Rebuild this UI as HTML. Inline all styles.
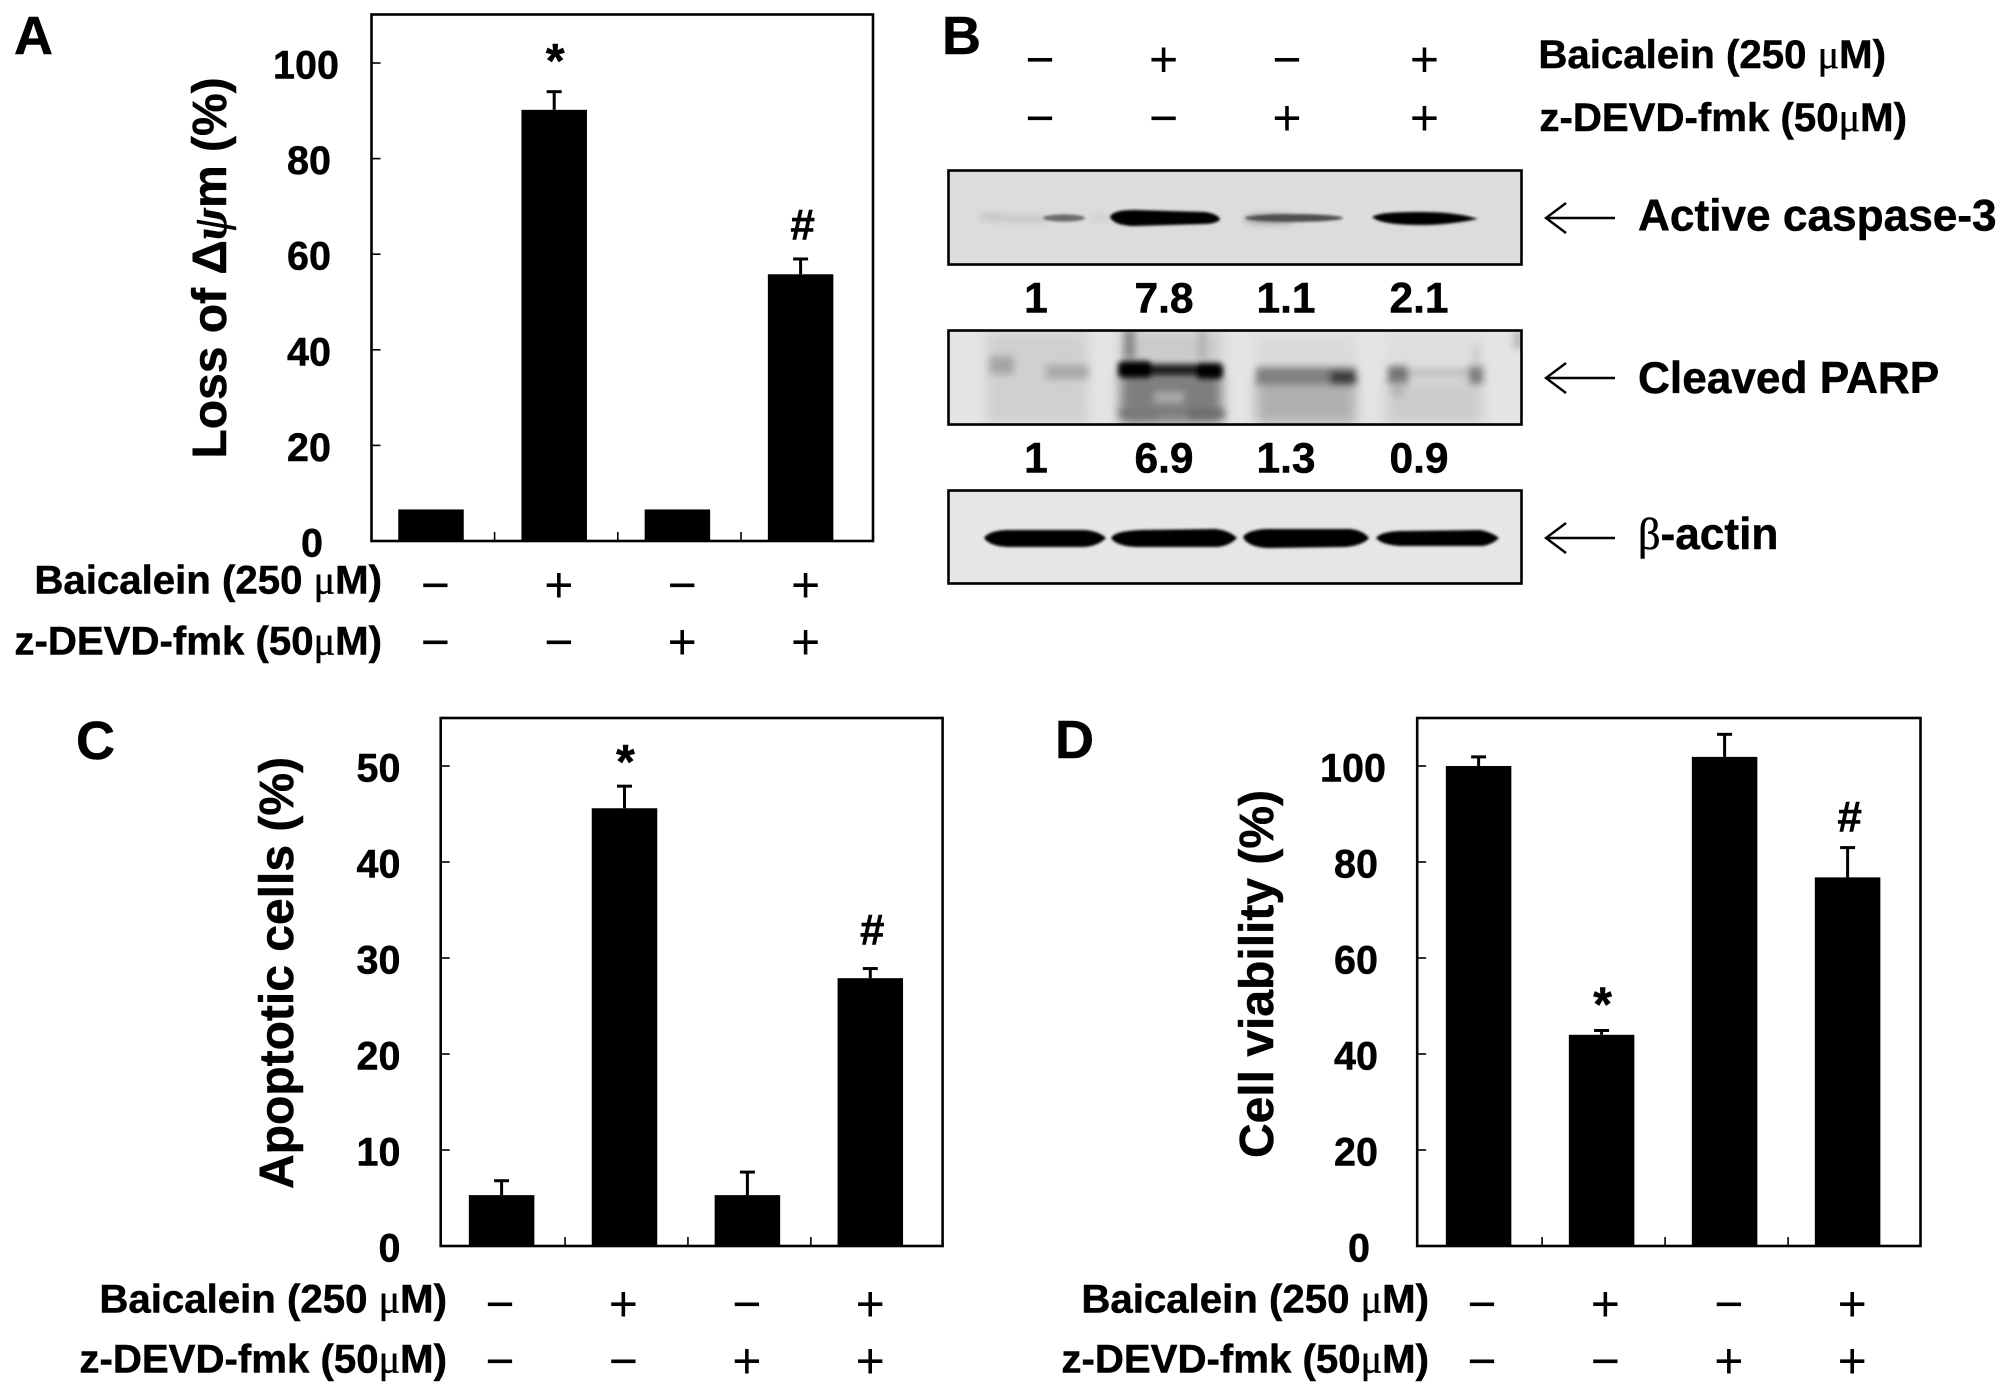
<!DOCTYPE html>
<html lang="en">
<head>
<meta charset="utf-8">
<title>Baicalein apoptosis figure</title>
<style>
html,body{margin:0;padding:0;background:#fff;width:2008px;height:1395px;overflow:hidden}
svg{display:block}
text{font-family:"Liberation Sans",sans-serif;font-weight:bold;fill:#000;stroke:#000;stroke-width:.5px}
.serif{font-family:"Liberation Serif",serif;font-weight:normal}
.sign{font-weight:normal;stroke:none}
</style>
</head>
<body>
<svg id="figure" xmlns="http://www.w3.org/2000/svg" width="2008" height="1395" viewBox="0 0 2008 1395">
  <defs>
    <filter id="b1" x="-10%" y="-100%" width="120%" height="300%"><feGaussianBlur stdDeviation="1.2"/></filter>
    <filter id="b4" x="-10%" y="-100%" width="120%" height="300%"><feGaussianBlur stdDeviation="3"/></filter>
    <filter id="b2" x="-10%" y="-100%" width="120%" height="300%"><feGaussianBlur stdDeviation="3.6"/></filter>
    <filter id="b3" x="-10%" y="-30%" width="120%" height="160%"><feGaussianBlur stdDeviation="6"/></filter>
    <clipPath id="blot2clip"><rect x="949" y="331" width="572" height="93"/></clipPath>
  </defs>
  <rect x="0" y="0" width="2008" height="1395" fill="#fff"/>

  <g>
    <g>
      <rect x="949" y="171" width="572" height="93" fill="#dcdcdc"/>
      <g filter="url(#b2)">
        <ellipse cx="992" cy="217" rx="14" ry="2.5" fill="#b4b4b4"/>
        <rect x="1005" y="216" width="40" height="5" fill="#bcbcbc"/>
        <ellipse cx="1270" cy="219" rx="26" ry="4" fill="#8a8a8a"/>
        <ellipse cx="1100" cy="218" rx="10" ry="2" fill="#c4c4c4"/>
      </g>
      <g filter="url(#b1)">
        <ellipse cx="1064" cy="218" rx="21" ry="3.6" fill="#6a6a6a"/>
        <path d="M1110 217C1112 212 1120 210 1135 210L1205 212C1213 213 1219 216 1220 219C1219 222 1212 224 1205 224L1135 226C1120 226 1112 222 1110 217Z" fill="#000"/>
        <ellipse cx="1294" cy="218" rx="49" ry="3.9" fill="#505050"/>
        <path d="M1372 217C1378 213 1392 212 1420 212C1445 212 1462 214 1478 219C1462 222 1445 225 1420 225C1392 225 1378 222 1372 217Z" fill="#060606"/>
      </g>
    </g>
    <g>
      <rect x="949" y="331" width="572" height="93" fill="#e4e4e4"/>
      <g clip-path="url(#blot2clip)">
        <g filter="url(#b3)">
          <rect x="986" y="331" width="102" height="93" fill="#d0d0d0"/>
          <rect x="1120" y="372" width="102" height="52" fill="#7e7e7e"/>
          <rect x="1120" y="331" width="102" height="36" fill="#cbcbcb"/>
          <rect x="1256" y="378" width="100" height="46" fill="#b0b0b0"/>
          <rect x="1256" y="335" width="100" height="32" fill="#dadada"/>
          <rect x="1386" y="380" width="96" height="44" fill="#cccccc"/>
          <rect x="1386" y="335" width="96" height="30" fill="#dedede"/>
        </g>
        <g filter="url(#b2)">
          <rect x="1124" y="329" width="11" height="30" fill="#888"/>
          <rect x="1198" y="329" width="8" height="30" fill="#b0b0b0"/>
          <rect x="1154" y="392" width="30" height="11" fill="#adadad"/>
          <rect x="990" y="356" width="24" height="18" fill="#a4a4a4"/>
          <rect x="1046" y="365" width="42" height="14" fill="#a8a8a8"/>
          <rect x="1120" y="409" width="36" height="9" fill="#777"/>
          <rect x="1188" y="409" width="36" height="9" fill="#6a6a6a"/>
          <rect x="1256" y="367" width="100" height="18" fill="#808080"/>
          <rect x="1406" y="368" width="66" height="10" fill="#c0c0c0"/>
          <rect x="1388" y="366" width="20" height="18" fill="#727272"/>
          <rect x="1392" y="382" width="12" height="14" fill="#b4b4b4"/>
          <rect x="1469" y="365" width="14" height="19" fill="#7c7c7c"/>
          <rect x="1473" y="345" width="7" height="22" fill="#cccccc"/>
          <rect x="1330" y="371" width="26" height="13" fill="#343434"/>
          <rect x="1514" y="331" width="8" height="18" fill="#b0b0b0"/>
        </g>
        <g filter="url(#b4)">
          <rect x="1120" y="364" width="102" height="12" fill="#222"/>
          <rect x="1118" y="361" width="34" height="17" rx="5" fill="#000"/>
          <rect x="1196" y="363" width="27" height="16" rx="5" fill="#000"/>
        </g>
      </g>
    </g>
    <g>
      <rect x="949" y="491" width="572" height="92" fill="#e6e6e6"/>
      <g filter="url(#b1)">
        <path d="M984 538C988 532 998 530 1010 530H1082C1094 530 1102 534 1106 538C1102 542 1094 547 1082 547H1010C998 547 988 544 984 538Z" fill="#000"/>
        <path d="M1111 538C1115 532 1125 531 1140 530L1215 529C1226 530 1233 534 1237 538C1233 542 1226 547 1215 547H1140C1125 547 1115 544 1111 538Z" fill="#000"/>
        <path d="M1243 537C1246 532 1256 529 1270 529H1350C1360 530 1366 534 1369 538C1366 542 1358 546 1345 547L1270 548C1256 548 1246 544 1243 537Z" fill="#000"/>
        <path d="M1376 538C1380 533 1390 531 1405 531L1480 530C1490 532 1495 535 1499 538C1495 542 1488 546 1480 546H1405C1390 546 1380 543 1376 538Z" fill="#000"/>
      </g>
    </g>
    <rect x="948.5" y="170.5" width="573" height="94" fill="none" stroke="#000" stroke-width="2.6"/>
    <rect x="948.5" y="330.5" width="573" height="94" fill="none" stroke="#000" stroke-width="2.6"/>
    <rect x="948.5" y="490.5" width="573" height="93" fill="none" stroke="#000" stroke-width="2.6"/>
    <g stroke="#000" stroke-width="2.4" fill="none">
      <path d="M1615 218H1546M1566 203L1546 218L1566 233"/>
      <path d="M1615 378H1546M1566 363L1546 378L1566 393"/>
      <path d="M1615 538H1546M1566 523L1546 538L1566 553"/>
    </g>
    <text x="1638" y="230.5" font-size="44.2">Active caspase-3</text>
    <text x="1638" y="393" font-size="44.2">Cleaved PARP</text>
    <text x="1638" y="549" font-size="44.2"><tspan class="serif">β</tspan>-actin</text>
  </g>

  <text x="14" y="54" font-size="54">A</text>
  <text x="942" y="54" font-size="54">B</text>
  <text x="76" y="759" font-size="54">C</text>
  <text x="1055" y="758" font-size="54">D</text>

  <text transform="translate(226 268) rotate(-90)" text-anchor="middle" font-size="48">Loss of Δ<tspan font-family="Liberation Serif" font-style="italic" font-weight="bold">ψ</tspan>m (%)</text>
  <text transform="translate(293 973) rotate(-90)" text-anchor="middle" font-size="48">Apoptotic cells (%)</text>
  <text transform="translate(1273 974) rotate(-90)" text-anchor="middle" font-size="48">Cell viability (%)</text>

  <g id="charts"></g>
</svg>

<script>
const categories = ['control', 'baicalein', 'zdevd', 'baicalein-zdevd'];
const baicaleinSigns = ['−', '+', '−', '+'];
const zdevdSigns = ['−', '−', '+', '+'];

const panelAValues = [6.6, 90.2, 6.6, 55.8];
const panelAErrors = [0, 3.8, 0, 3.2];
const panelATicks = [0, 20, 40, 60, 80, 100];
const panelAMarks = ['', '*', '', '#'];

const panelCValues = [5.3, 45.6, 5.3, 27.9];
const panelCErrors = [1.5, 2.3, 2.4, 1.0];
const panelCTicks = [0, 10, 20, 30, 40, 50];
const panelCMarks = ['', '*', '', '#'];

const panelDValues = [100, 44, 101.9, 76.8];
const panelDErrors = [1.9, 0.9, 4.7, 6.2];
const panelDTicks = [0, 20, 40, 60, 80, 100];
const panelDMarks = ['', '*', '', '#'];

const caspaseRatios = ['1', '7.8', '1.1', '2.1'];
const parpRatios = ['1', '6.9', '1.3', '0.9'];

const NS = 'http://www.w3.org/2000/svg';
const root = document.getElementById('charts');

function make(parent, tag, attrs, content) {
  const el = document.createElementNS(NS, tag);
  for (const k in attrs) el.setAttribute(k, attrs[k]);
  if (content !== undefined) el.textContent = content;
  parent.appendChild(el);
  return el;
}

function concentrationLabel(parent, x, y, prefix, dose) {
  const t = make(parent, 'text', { x: x, y: y, 'font-size': 40.2, 'text-anchor': 'end' });
  t.appendChild(document.createTextNode(prefix + ' (' + dose));
  const mu = make(t, 'tspan', { class: 'serif' }, 'μ');
  t.appendChild(document.createTextNode('M)'));
  return t;
}

function signRow(parent, signs, xs, y, rowName) {
  signs.forEach(function (s, i) {
    const t = make(parent, 'text', { x: xs(i), y: y + 17, 'font-size': 50, 'text-anchor': 'middle', class: 'sign' }, s);
    
    
  });
}

function drawPanel(p) {
  const g = make(root, 'g', {});
  
  

  const yScale = function (v) { return p.bottom - v * p.pxPerUnit; };
  const xScale = function (i) { return p.x0 + i * p.step; };

  const frame = make(g, 'rect', { x: p.left, y: p.top, width: p.right - p.left, height: p.bottom - p.top, fill: 'none', stroke: '#000', 'stroke-width': 2.6 });
  
  

  p.ticks.forEach(function (tv) {
    const y = yScale(tv);
    if (tv !== 0) {
      const tick = make(g, 'line', { x1: p.left, x2: p.left + 9, y1: y, y2: y, stroke: '#000', 'stroke-width': 1.6 });
      
      
    }
    const s = String(tv);
    const lbl = make(g, 'text', { x: p.labelX + (2 - s.length) * p.labelShift, y: y + 15.5, 'font-size': 39.5, 'text-anchor': 'middle' }, s);
    
    
  });

  categories.forEach(function (c, i) {
    if (i < categories.length - 1) {
      const cx = xScale(i) + p.step / 2 + 2;
      const tick = make(g, 'line', { x1: cx, x2: cx, y1: p.bottom, y2: p.bottom - 9, stroke: '#000', 'stroke-width': 1.6 });
      
      
    }
  });

  p.values.forEach(function (v, i) {
    const cx = xScale(i);
    const top = yScale(v);
    const err = p.errors[i];
    if (err > 0) {
      const capY = yScale(v + err);
      const stem = make(g, 'line', { x1: cx, x2: cx, y1: top, y2: capY, stroke: '#000', 'stroke-width': 3 });
      
      
      const cap = make(g, 'line', { x1: cx - 7.5, x2: cx + 7.5, y1: capY, y2: capY, stroke: '#000', 'stroke-width': 3 });
      
      
    }
    const bar = make(g, 'rect', { x: cx - p.barWidth / 2, y: top, width: p.barWidth, height: p.bottom - top, fill: '#000' });
    
    

    const m = p.marks[i];
    if (m) {
      const tipY = yScale(v + err);
      const isStar = m === '*';
      const mark = make(g, 'text', {
        x: cx + (isStar ? 1 : 2),
        y: tipY + (isStar ? p.starGap : p.hashGap),
        'font-size': isStar ? 48 : 44,
        'text-anchor': 'middle'
      }, m);
      
      
    }
  });

  const signX = function (i) { return p.signX0 + i * p.signStep; };
  const bl = concentrationLabel(g, p.textRight, p.row1Base, 'Baicalein', '250 ');
  
  
  const zl = concentrationLabel(g, p.textRight, p.row2Base, 'z-DEVD-fmk', '50');
  
  
  signRow(g, baicaleinSigns, signX, p.row1Sign, 'panel-' + p.id + '-baicalein');
  signRow(g, zdevdSigns, signX, p.row2Sign, 'panel-' + p.id + '-zdevd');
}

drawPanel({ id: 'a', values: panelAValues, errors: panelAErrors, ticks: panelATicks, marks: panelAMarks,
  left: 371.5, right: 873, top: 14.5, bottom: 541, pxPerUnit: 4.78, x0: 431, step: 123.2, barWidth: 65.5,
  labelX: 309, labelShift: 3, textRight: 382, row1Base: 593.5, row2Base: 654.5, row1Sign: 585, row2Sign: 642,
  signX0: 435.4, signStep: 123.4, starGap: -14.5, hashGap: -19.5 });

drawPanel({ id: 'c', values: panelCValues, errors: panelCErrors, ticks: panelCTicks, marks: panelCMarks,
  left: 440.7, right: 942.6, top: 718, bottom: 1246, pxPerUnit: 9.6, x0: 501.6, step: 122.9, barWidth: 65.5,
  labelX: 378.5, labelShift: 11, textRight: 447, row1Base: 1312.5, row2Base: 1372.5, row1Sign: 1304, row2Sign: 1361,
  signX0: 500, signStep: 123.4, starGap: -8, hashGap: -24 });

drawPanel({ id: 'd', values: panelDValues, errors: panelDErrors, ticks: panelDTicks, marks: panelDMarks,
  left: 1417.2, right: 1920.5, top: 718, bottom: 1246, pxPerUnit: 4.8, x0: 1478.6, step: 123, barWidth: 65.5,
  labelX: 1356, labelShift: 3, textRight: 1429, row1Base: 1312.5, row2Base: 1372.5, row1Sign: 1304, row2Sign: 1361,
  signX0: 1482, signStep: 123.4, starGap: -10, hashGap: -16 });

/* Panel B treatment header and densitometry ratios */
const bGroup = make(root, 'g', {});


const laneX = function (i) { return [1040, 1163.6, 1287, 1424.5][i]; };
const ratioX = function (i) { return [1036, 1164, 1286, 1419][i]; };
signRow(bGroup, baicaleinSigns, laneX, 59.5, 'panel-b-baicalein');
signRow(bGroup, zdevdSigns, laneX, 118, 'panel-b-zdevd');
const bBaic = concentrationLabel(bGroup, 1886, 68, 'Baicalein', '250 ');


const bZ = concentrationLabel(bGroup, 1907, 131, 'z-DEVD-fmk', '50');


caspaseRatios.forEach(function (r, i) {
  const t = make(bGroup, 'text', { x: ratioX(i), y: 312.5, 'font-size': 42.5, 'text-anchor': 'middle' }, r);
  
  
});
parpRatios.forEach(function (r, i) {
  const t = make(bGroup, 'text', { x: ratioX(i), y: 472.5, 'font-size': 42.5, 'text-anchor': 'middle' }, r);
  
  
});
</script>
</body>
</html>
